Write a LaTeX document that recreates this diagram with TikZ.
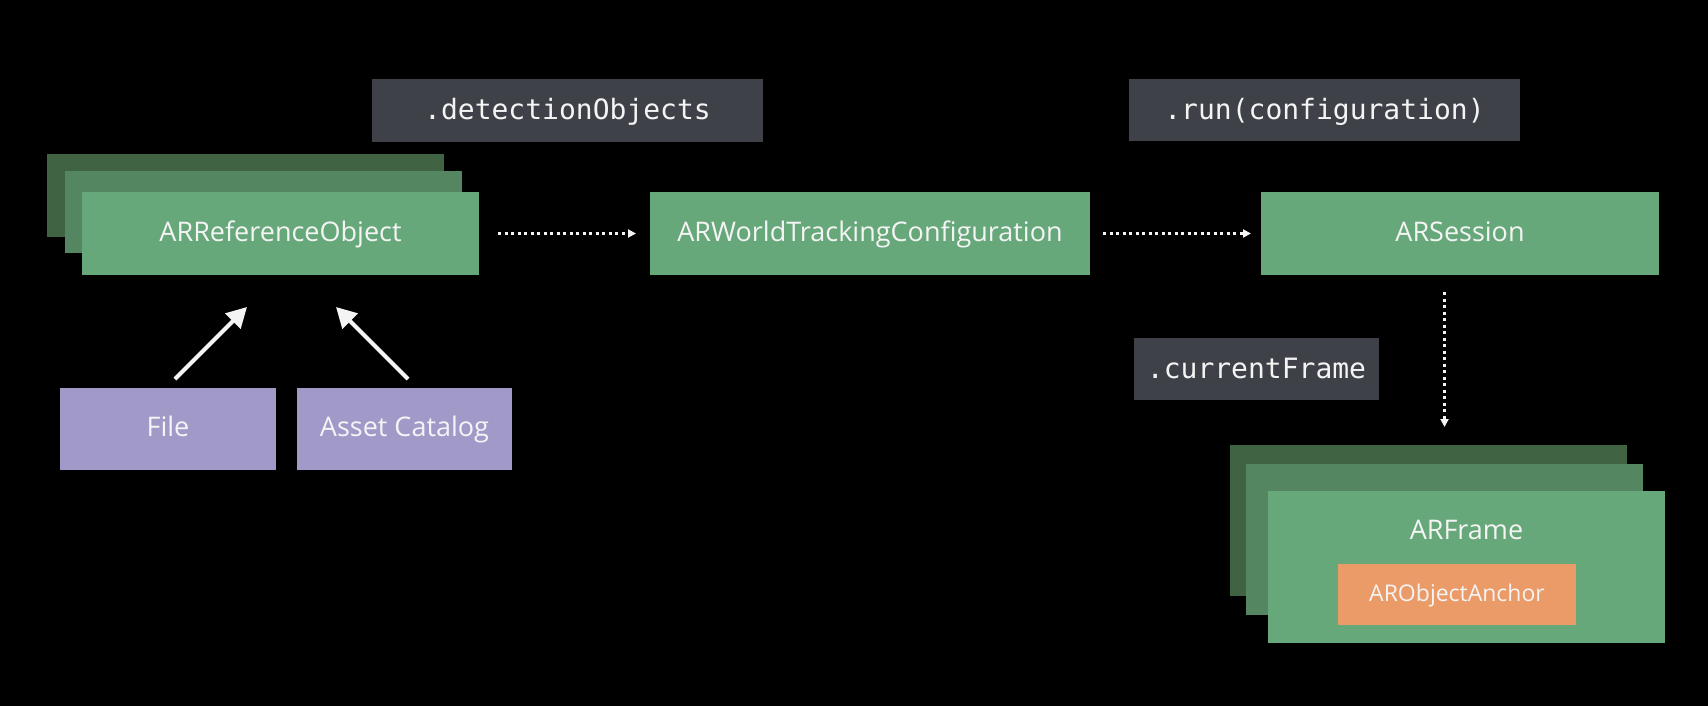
\documentclass[tikz,border=0pt]{standalone}
\usepackage{fontspec}
\setmainfont{Open Sans}
\setmonofont{DejaVu Sans Mono}
\usepackage{tikz}
\usetikzlibrary{arrows.meta, positioning}

\definecolor{txtwhite}{HTML}{F4F4F4}
\definecolor{callgray}{HTML}{3E4147}
\definecolor{grfront}{HTML}{67A87B}
\definecolor{grmid}{HTML}{548661}
\definecolor{grback}{HTML}{3F6343}
\definecolor{lilac}{HTML}{A19AC9}
\definecolor{apricot}{HTML}{EB9B67}

\tikzset{
	blk/.style={inner sep=0pt, outer sep=0pt, text=txtwhite, font=\fontsize{27}{32}\selectfont, text height=19.5pt, text depth=4pt},
	greenbox/.style={blk, fill=grfront},
	greenmid/.style={blk, fill=grmid},
	greenback/.style={blk, fill=grback},
	purplebox/.style={blk, fill=lilac},
	orangebox/.style={blk, fill=apricot, font=\fontsize{23}{28}\selectfont, text height=16.5pt, text depth=3.5pt},
	callbox/.style={blk, fill=callgray, font=\ttfamily\fontsize{28}{32}\selectfont, text height=20.4pt, text depth=2pt},
	dotarrow/.style={draw=txtwhite, line width=2.5pt, dash pattern=on 3pt off 3.5pt, -{Triangle[length=8pt,width=8pt]}},
	whitearrow/.style={draw=txtwhite, line width=4pt, -{Triangle[length=20pt,width=21pt]}}
}

\begin{document}
\begin{tikzpicture}[x=1pt, y=-1pt]

		\fill[black] (0,0) rectangle (1708,706);
		\useasboundingbox (0,0) rectangle (1708,706);

		\node[callbox, minimum width=391pt, minimum height=63pt] (det) at (567.5,110.5) {.detectionObjects};
		\node[callbox, minimum width=391pt, minimum height=62pt] (run) at (1324.5,110) {.run(configuration)};
		\node[callbox, minimum width=245pt, minimum height=62pt] (cur) at (1256.5,369) {.currentFrame};

		\node[greenback, minimum width=397pt, minimum height=83pt] (refback) at (245.5,195.5) {};
		\node[greenmid, minimum width=397pt, minimum height=82pt] (refmid) at (263.5,212) {};
		\node[greenbox, minimum width=397pt, minimum height=83pt] (ref) at (280.5,233.5) {ARReferenceObject};

		\node[greenbox, minimum width=440pt, minimum height=83pt] (wtc) at (870,233.5) {ARWorldTrackingConfiguration};
		\node[greenbox, minimum width=398pt, minimum height=83pt] (sess) at (1460,233.5) {ARSession};

		\node[purplebox, minimum width=216pt, minimum height=82pt] (file) at (168,429) {File};
		\node[purplebox, minimum width=215pt, minimum height=82pt] (asset) at (404.5,429) {Asset Catalog};

		\node[greenback, minimum width=397pt, minimum height=151pt] (fback) at (1428.5,520.5) {};
		\node[greenmid, minimum width=397pt, minimum height=151pt] (fmid) at (1444.5,539.5) {};
		\node[greenbox, minimum width=397pt, minimum height=152pt] (frame) at (1466.5,567) {};
		\node[blk] (frametxt) at ([yshift=-41pt]frame.north) {ARFrame};
		\node[orangebox, minimum width=238pt, minimum height=61pt] (anchor) at (1457,594.5) {ARObjectAnchor};

		\draw[dotarrow, shorten <=19pt, shorten >=14pt] (ref.east) -- (wtc.west);
		\draw[dotarrow, shorten <=13pt, shorten >=10pt] (wtc.east) -- (sess.west);
		\draw[dotarrow, shorten <=17pt, shorten >=18pt] (sess.south -| fmid.north) -- (fback.north -| fmid.north);

		\draw[whitearrow] ([shift={(7pt,9pt)}]file.north) -- ([shift={(-33.5pt,-32pt)}]ref.south);
		\draw[whitearrow] ([shift={(3.5pt,9pt)}]asset.north) -- ([shift={(55.5pt,-32pt)}]ref.south);

\end{tikzpicture}
\end{document}
